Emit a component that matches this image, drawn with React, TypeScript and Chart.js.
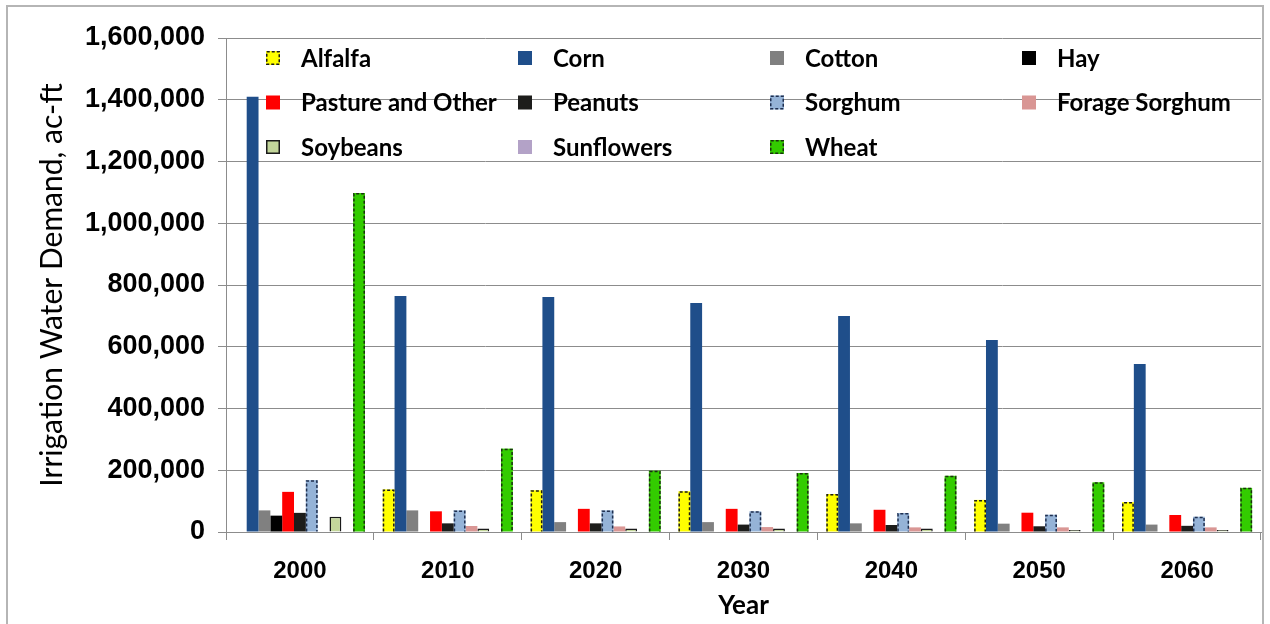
import React, { useEffect, useRef } from 'react';
import { Chart, registerables } from 'chart.js';

Chart.register(...registerables);

// Decades on the category axis
const years = ['2000', '2010', '2020', '2030', '2040', '2050', '2060'];

// Irrigation water demand by crop, ac-ft
const alfalfa = [0, 138000, 135000, 132000, 123000, 104000, 97000];
const corn = [1410000, 764000, 761000, 742000, 700000, 622000, 544000];
const cotton = [70000, 70000, 32000, 32000, 28000, 27000, 24000];
const hay = [53000, 0, 0, 0, 0, 0, 0];
const pasture = [130000, 67000, 75000, 75000, 72000, 62500, 55000];
const peanuts = [62000, 28000, 28000, 24000, 22700, 18500, 20000];
const sorghum = [168000, 70000, 70000, 67000, 61500, 56000, 49500];
const forageSorghum = [0, 19500, 18000, 16000, 15000, 15000, 15000];
const soybeans = [49000, 11000, 11000, 11000, 11000, 6500, 6500];
const sunflowers = [0, 0, 0, 0, 0, 0, 0];
const wheat = [1098000, 270000, 198500, 191000, 182000, 161000, 143000];

const seriesNames = [
  'Alfalfa', 'Corn', 'Cotton', 'Hay',
  'Pasture and Other', 'Peanuts', 'Sorghum', 'Forage Sorghum',
  'Soybeans', 'Sunflowers', 'Wheat',
];
const seriesValues = [
  alfalfa, corn, cotton, hay, pasture, peanuts, sorghum, forageSorghum,
  soybeans, sunflowers, wheat,
];

// Y axis range and step
const yMax = 1600000;
const yStep = 200000;

// Fill colours and outline styles per series
const fillColors = [
  '#ffff00', '#1f4e8a', '#808080', '#000000', '#ff0000', '#1d1d1b',
  '#95b3d7', '#d99694', '#c3d69b', '#b3a2c7', '#33cc00',
];
const edgeColors = [
  '#1a1a1a', null, null, null, null, null, '#1f2f4f', null, '#1a1a1a', null, '#1a3010',
];
const edgeDashed = [true, false, false, false, false, false, true, false, false, false, true];

const GRID = '#8c8c8c';
const TICK_FONT = 'Liberation Sans';
const TEXT_FONT = 'Lato';

// Dashed outlines for the bars that carry them (left, top and right edges)
const dashedEdges = {
  id: 'dashedEdges',
  afterDatasetsDraw(chart: any) {
    const ctx = chart.ctx;
    chart.data.datasets.forEach((ds: any, i: number) => {
      if (!edgeDashed[i]) return;
      const meta = chart.getDatasetMeta(i);
      meta.data.forEach((el: any, j: number) => {
        if (!ds.data[j]) return;
        const { x, y, base, width } = el.getProps(['x', 'y', 'base', 'width'], true);
        const l = x - width / 2 + 0.75;
        const r = x + width / 2 - 0.75;
        ctx.save();
        ctx.strokeStyle = edgeColors[i];
        ctx.lineWidth = 1.5;
        ctx.setLineDash([3, 2]);
        ctx.beginPath();
        ctx.moveTo(l, base);
        ctx.lineTo(l, y + 0.75);
        ctx.lineTo(r, y + 0.75);
        ctx.lineTo(r, base);
        ctx.stroke();
        ctx.restore();
      });
    });
  },
};

// Four-column legend laid over the top of the plot area
const gridLegend = {
  id: 'gridLegend',
  afterDraw(chart: any) {
    const ctx = chart.ctx;
    const area = chart.chartArea;
    const colStep = 252;
    const rowStep = 44.5;
    const box = 14;
    ctx.save();
    ctx.font = `bold 24px ${TEXT_FONT}`;
    ctx.textBaseline = 'middle';
    ctx.textAlign = 'left';
    seriesNames.forEach((name, i) => {
      const col = i % 4;
      const row = Math.floor(i / 4);
      const bx = area.left + 40 + col * colStep;
      const cy = area.top + 20 + row * rowStep;
      ctx.fillStyle = fillColors[i];
      ctx.fillRect(bx, cy - box / 2, box, box);
      if (edgeColors[i]) {
        ctx.strokeStyle = edgeColors[i] as string;
        ctx.lineWidth = 1.5;
        ctx.setLineDash(edgeDashed[i] ? [3, 2] : []);
        ctx.strokeRect(bx + 0.75, cy - box / 2 + 0.75, box - 1.5, box - 1.5);
        ctx.setLineDash([]);
      }
      ctx.fillStyle = '#000000';
      ctx.fillText(name, bx + 35, cy + 1);
    });
    ctx.restore();
  },
};

export default function App() {
  const canvasRef = useRef<HTMLCanvasElement | null>(null);

  useEffect(() => {
    if (!canvasRef.current) return;
    const chart = new Chart(canvasRef.current, {
      type: 'bar',
      data: {
        labels: years,
        datasets: seriesNames.map((name, i) => ({
          label: name,
          data: seriesValues[i],
          backgroundColor: fillColors[i],
          borderColor: edgeColors[i] && !edgeDashed[i] ? (edgeColors[i] as string) : 'rgba(0,0,0,0)',
          borderWidth: edgeColors[i] && !edgeDashed[i] ? 1.5 : 0,
          categoryPercentage: 0.88,
          barPercentage: 1,
        })),
      },
      options: {
        animation: false,
        responsive: false,
        maintainAspectRatio: false,
        layout: { padding: { left: 0, top: 38, right: 9, bottom: 0 } },
        plugins: {
          legend: { display: false },
          tooltip: { enabled: false },
        },
        scales: {
          x: {
            grid: { drawOnChartArea: false, drawTicks: true, tickLength: 8, color: GRID, offset: true },
            border: { color: GRID, width: 1 },
            ticks: {
              font: { family: TICK_FONT, size: 24, weight: 'bold' },
              color: '#000000',
              padding: 17,
              maxRotation: 0,
            },
            title: {
              display: true,
              text: 'Year',
              font: { family: TEXT_FONT, size: 26, weight: 'bold' },
              color: '#000000',
              padding: { top: 0, bottom: 3 },
            },
            afterFit(scale: any) {
              scale.height = 92;
            },
          },
          y: {
            min: 0,
            max: yMax,
            ticks: {
              stepSize: yStep,
              callback: (v: any) => Number(v).toLocaleString('en-US'),
              font: { family: TICK_FONT, size: 27, weight: 'bold' },
              color: '#000000',
              padding: 13,
            },
            grid: { color: GRID, tickLength: 8 },
            border: { color: GRID, width: 1 },
            title: {
              display: true,
              text: 'Irrigation Water Demand, ac-ft',
              font: { family: TEXT_FONT, size: 30 },
              color: '#000000',
              padding: { top: 34, bottom: 0 },
            },
            afterFit(scale: any) {
              scale.width = 226;
            },
          },
        },
      },
      plugins: [dashedEdges, gridLegend],
    } as any);
    return () => chart.destroy();
  }, []);

  return (
    <div
      style={{
        position: 'absolute',
        left: 0,
        top: 0,
        width: 1270,
        height: 624,
        overflow: 'hidden',
        background: '#ffffff',
      }}
    >
      <div
        style={{
          position: 'absolute',
          left: 6,
          top: 5,
          width: 1258,
          height: 700,
          border: '2px solid #b5b5b5',
          boxSizing: 'border-box',
        }}
      />
      <canvas
        ref={canvasRef}
        width={1270}
        height={624}
        style={{ position: 'absolute', left: 0, top: 0, width: 1270, height: 624 }}
      />
    </div>
  );
}
